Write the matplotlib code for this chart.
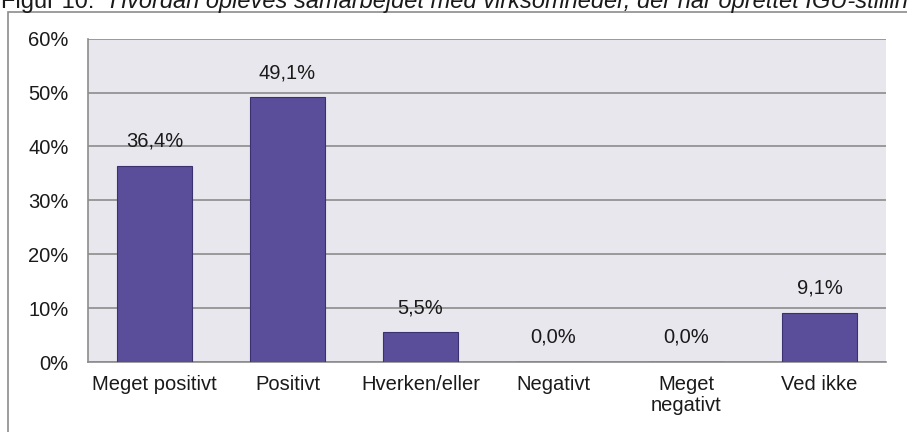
import matplotlib.pyplot as plt
from matplotlib.patches import Rectangle
from matplotlib.ticker import PercentFormatter

plt.rcParams['font.family'] = ['Liberation Sans', 'DejaVu Sans']

categories = ['Meget positivt', 'Positivt', 'Hverken/eller', 'Negativt', 'Meget\nnegativt', 'Ved ikke']
values = [36.4, 49.1, 5.5, 0.0, 0.0, 9.1]
yticks = [0, 10, 20, 30, 40, 50, 60]

FS = 14.5
TXT = '#1a1a1a'

fig = plt.figure(figsize=(9.07, 4.32), dpi=100)

# outer chart frame
fig.patches.append(Rectangle((8 / 907, -0.05), 1.2, 1 - 12 / 432 + 0.05, transform=fig.transFigure,
                             fill=False, edgecolor='#8C8C8C', linewidth=1.2))

# title, partly cut off at the top as in the source
fig.text(1 / 907, 1 - 8 / 432, 'Figur 10:', fontsize=17, va='baseline', ha='left', color=TXT)
fig.text(110 / 907, 1 - 8 / 432, 'Hvordan opleves samarbejdet med virksomheder, der har oprettet IGU-stillinger?',
         fontsize=17, va='baseline', ha='left', style='italic', color=TXT)

ax = fig.add_axes([88 / 907, 1 - 362 / 432, (886 - 88) / 907, (362 - 38.7) / 432])
ax.set_facecolor('#E8E7EE')
ax.set_axisbelow(True)
ax.grid(axis='y', color='#8C8C8C', linewidth=1.2)

x = range(len(categories))
ax.bar(x, values, width=0.56, color='#5A4E9A', edgecolor='#3A3270', linewidth=0.8, zorder=3)

for xi, v in zip(x, values):
    ax.annotate(f'{v:.1f}%'.replace('.', ','), (xi, v), xytext=(0, 11), textcoords='offset points',
                ha='center', va='bottom', fontsize=FS, color=TXT)

ax.set_xlim(-0.5, len(categories) - 0.5)
ax.set_ylim(0, 60)
ax.set_yticks(yticks)
ax.yaxis.set_major_formatter(PercentFormatter(decimals=0))
ax.set_xticks(list(x))
ax.set_xticklabels(categories, fontsize=FS, color=TXT, va='top', linespacing=1.15)
ax.tick_params(axis='y', labelsize=FS, labelcolor=TXT, length=0, pad=14)
ax.tick_params(axis='x', length=0, pad=9)

for side in ['top', 'right']:
    ax.spines[side].set_visible(False)
for side in ['left', 'bottom']:
    ax.spines[side].set_color('#8C8C8C')
    ax.spines[side].set_linewidth(1.2)

fig.savefig('out.png', dpi=100)
